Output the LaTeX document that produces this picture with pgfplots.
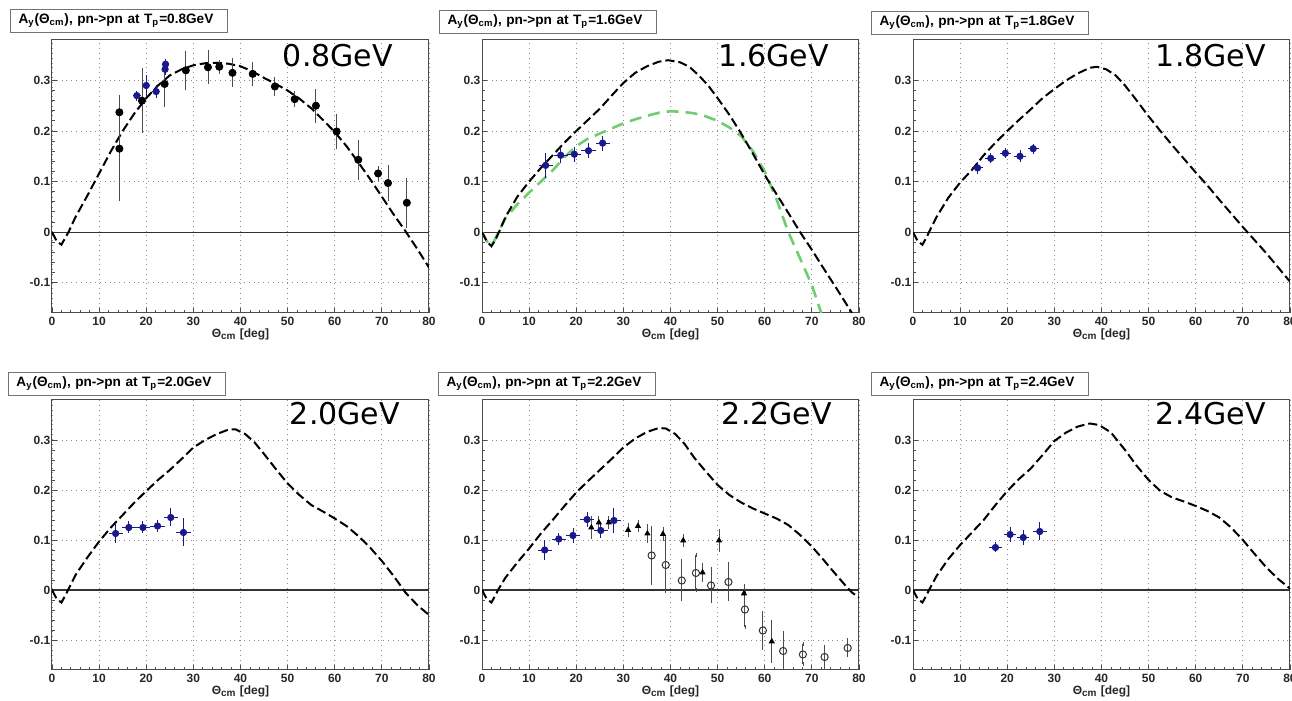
\documentclass[border=0pt]{standalone}
\usepackage{fontspec}
\setmainfont{Liberation Sans}
\newfontfamily\dejavu{DejaVu Sans}
\usepackage{pgfplots}
\pgfplotsset{compat=1.18}
\usepackage{pgfplotstable}

\definecolor{rootblue}{RGB}{25,25,140}
\definecolor{rootgreen}{RGB}{110,205,110}

% ---------------- theory curves ----------------
\pgfplotstableread{
x y
0 0
1 -0.018
2 -0.025
3 -0.008
3.5 0
5 0.03
7.5 0.072
10 0.116
12.5 0.16
15 0.2
17.5 0.235
20 0.265
22.5 0.29
25 0.31
27.5 0.322
30 0.33
32.5 0.334
35 0.335
37.5 0.333
40 0.328
42.5 0.318
45 0.305
47.5 0.293
50 0.28
52.5 0.264
55 0.245
57.5 0.222
60 0.198
62.5 0.17
65 0.138
67.5 0.105
70 0.07
72.5 0.035
75 0.002
77.5 -0.033
80 -0.07
}\curveA

\pgfplotstableread{
x y
0 0
1 -0.018
2 -0.028
3 -0.012
3.6 0
5 0.03
7.5 0.07
10 0.1
12.5 0.127
15 0.152
17.5 0.177
20 0.2
22.5 0.222
25 0.244
27.5 0.27
30 0.295
32.5 0.315
35 0.328
37.5 0.337
39.5 0.34
42 0.336
44 0.327
46 0.31
48 0.29
50 0.265
52.5 0.232
55 0.195
57.5 0.155
60 0.113
62.5 0.075
65 0.038
67.5 0.0
70 -0.035
72.5 -0.072
75 -0.108
77.5 -0.145
78.5 -0.16
}\curveB

\pgfplotstableread{
x y
0 0
1 -0.018
2 -0.028
3 -0.01
3.5 0
5 0.028
7.5 0.055
10 0.078
12.5 0.1
15 0.122
17.5 0.148
20 0.17
22.5 0.185
25 0.195
27.5 0.205
30 0.215
32.5 0.223
35 0.23
37.5 0.236
40 0.239
42.5 0.238
45 0.235
47.5 0.229
50 0.22
52.5 0.207
55 0.19
57.5 0.16
60 0.12
62.5 0.065
65 0.0
67.5 -0.052
70 -0.105
72 -0.16
}\curveBg

\pgfplotstableread{
x y
0 0
1 -0.018
2 -0.025
3 -0.008
3.4 0
5 0.03
7.5 0.068
10 0.098
12.5 0.123
15 0.152
17.5 0.177
20 0.2
22.5 0.222
25 0.243
27.5 0.265
30 0.283
32.5 0.3
35 0.314
37.5 0.325
39 0.327
41 0.322
43 0.31
45 0.29
47.5 0.26
50 0.229
52.5 0.2
55 0.172
57.5 0.145
60 0.118
62.5 0.092
65 0.064
67.5 0.037
70 0.01
72.5 -0.016
75 -0.042
77.5 -0.07
80 -0.098
}\curveC

\pgfplotstableread{
x y
0 0
1 -0.018
2 -0.025
3 -0.008
3.4 0
5 0.03
7.5 0.065
10 0.097
12.5 0.125
15 0.15
17.5 0.175
20 0.198
22.5 0.22
25 0.24
27.5 0.262
30 0.285
32.5 0.3
35 0.312
37.5 0.321
39 0.321
41 0.312
43 0.295
45 0.272
47.5 0.242
50 0.213
52.5 0.19
55 0.17
57.5 0.157
60 0.143
62.5 0.128
65 0.108
67.5 0.085
70 0.058
72.5 0.028
75 -0.005
77.5 -0.03
80 -0.05
}\curveD

\pgfplotstableread{
x y
0 0
1 -0.018
2 -0.025
3 -0.008
3.4 0
5 0.025
7.5 0.055
10 0.083
12.5 0.113
15 0.14
17.5 0.168
20 0.195
22.5 0.218
25 0.24
27.5 0.262
30 0.285
32.5 0.303
35 0.316
37.5 0.324
39 0.323
41 0.312
43 0.292
45 0.265
47.5 0.237
50 0.21
52.5 0.19
55 0.175
57.5 0.163
60 0.153
62.5 0.143
65 0.13
67.5 0.11
70 0.087
72.5 0.06
75 0.032
77.5 0.005
78.5 -0.005
80 -0.015
}\curveE

\pgfplotstableread{
x y
0 0
1 -0.018
2 -0.025
3 -0.008
3.4 0
5 0.028
7.5 0.062
10 0.09
12.5 0.115
15 0.14
17.5 0.17
20 0.198
22.5 0.222
25 0.243
27.5 0.27
30 0.298
32.5 0.315
35 0.327
37.5 0.333
39.5 0.33
42 0.315
45 0.28
47.5 0.248
50 0.22
52.5 0.198
55 0.185
57.5 0.177
60 0.168
62.5 0.158
65 0.145
67.5 0.125
70 0.1
72.5 0.072
75 0.045
77.5 0.022
80 0.003
}\curveF

% ---------------- data ----------------
\pgfplotstableread{
x y ey
14.3 0.237 0.03
14.3 0.165 0.1
19.1 0.26 0.06
23.9 0.293 0.042
28.4 0.32 0.035
33.1 0.326 0.03
35.5 0.327 0.01
38.3 0.315 0.025
42.6 0.313 0.02
47.3 0.288 0.015
51.5 0.263 0.012
56.0 0.25 0.03
60.4 0.199 0.03
65.0 0.143 0.035
69.2 0.116 0.01
71.3 0.097 0.032
75.3 0.058 0.045
}\dataAk

\pgfplotstableread{
x y ex ey
18.0 0.27 0.8 0.01
20.0 0.29 0.8 0.02
22.1 0.278 0.8 0.012
24.0 0.322 0.6 0.012
24.1 0.332 0.6 0.01
}\dataAb

\pgfplotstableread{
x y ex ey
13.5 0.132 1.5 0.025
16.7 0.152 1.5 0.015
19.6 0.154 1.5 0.015
22.6 0.161 1.5 0.015
25.6 0.176 1.5 0.015
}\dataB

\pgfplotstableread{
x y ex ey
13.7 0.127 1.2 0.012
16.5 0.146 1.2 0.01
19.6 0.156 1.2 0.01
22.7 0.15 1.2 0.012
25.5 0.165 1.2 0.01
}\dataC

\pgfplotstableread{
x y ex ey
13.5 0.113 1.5 0.02
16.3 0.125 1.5 0.012
19.3 0.125 1.5 0.012
22.4 0.128 1.5 0.012
25.2 0.145 1.5 0.018
27.9 0.115 1.5 0.028
}\dataD

\pgfplotstableread{
x y ex ey
13.3 0.08 1.5 0.02
16.3 0.102 1.5 0.012
19.3 0.109 1.5 0.015
22.3 0.141 1.5 0.015
25.2 0.119 1.5 0.015
28.0 0.139 1.5 0.025
}\dataEb

\pgfplotstableread{
x y ey
23.2 0.125 0.02
24.8 0.135 0.01
26.9 0.135 0.01
31.0 0.12 0.01
33.1 0.128 0.008
35.1 0.113 0.015
38.4 0.112 0.01
42.7 0.099 0.01
46.8 0.035 0.015
50.3 0.099 0.02
55.6 -0.007 0.015
61.5 -0.103 0.04
}\dataEk

\pgfplotstableread{
x y ey
36.0 0.069 0.055
39.0 0.05 0.053
42.4 0.019 0.038
45.4 0.034 0.035
48.6 0.009 0.032
52.3 0.016 0.035
55.8 -0.039 0.035
59.6 -0.081 0.035
63.9 -0.122 0.035
68.1 -0.129 0.02
72.7 -0.134 0.02
77.6 -0.116 0.015
}\dataEo

\pgfplotstableread{
x y ex ey
17.5 0.085 1.3 0.01
20.6 0.111 1.3 0.015
23.4 0.105 1.3 0.015
26.9 0.117 1.5 0.018
}\dataF

\pgfplotsset{
  rootaxis/.style={
    scale only axis, width=188.5pt,
    xmin=0, xmax=80, ymin=-0.16, ymax=0.38,
    xtick={0,10,...,80}, xticklabels={0,10,20,30,40,50,60,70,80},
    ytick={-0.1,0,0.1,0.2,0.3}, yticklabels={-0.1,0,0.1,0.2,0.3},
    minor x tick num=4, minor y tick num=4,
    tick align=inside, xtick pos=bottom, ytick pos=left,
    major tick length=2.6pt, minor tick length=1.4pt,
    grid=major, major grid style={black!45, dotted, line width=0.45pt},
    axis line style={black!70, line width=0.5pt},
    tick style={black!70, line width=0.4pt},
    ticklabel style={font=\bfseries\fontsize{6}{7}\selectfont, text=black!85},
    yticklabel style={inner xsep=0.6pt},
    xticklabel style={inner ysep=1.8pt},
    xlabel={$\Theta$},
    xlabel={Θ\textsubscript{cm} [deg]},
    xlabel style={font=\bfseries\fontsize{6}{7}\selectfont, text=black!85,
      at={(axis description cs:0.5,0)}, anchor=center, yshift=-10.5pt},
  },
  theory/.style={black, line width=1pt, dash pattern=on 4.6pt off 2pt, no markers},
  zeroline/.style={black!80, line width=0.6pt, no markers, forget plot},
  bluepts/.style={only marks, mark=*, mark size=1.6pt, color=rootblue,
    error bars/.cd, x dir=both, x explicit, y dir=both, y explicit,
    error bar style={rootblue, line width=0.45pt}, error mark=none},
  blackpts/.style={only marks, mark=*, mark size=1.8pt, color=black,
    error bars/.cd, y dir=both, y explicit,
    error bar style={black!70, line width=0.45pt}, error mark options={mark size=1pt, black!70}},
}

\newcommand{\titlebox}[3]{%
  \node[draw=black!55, line width=0.5pt, anchor=north west, inner xsep=4pt, inner ysep=0pt,
    text width=100.5pt, minimum height=11.5pt, align=left,
    font=\bfseries\fontsize{6.8}{7}\selectfont] at (#1,#2)
    {A\textsubscript{y}(Θ\textsubscript{cm}), pn->pn at T\textsubscript{p}=#3};}

\begin{document}
\begin{tikzpicture}
\useasboundingbox (0,0) rectangle (646pt,350.5pt);

% ---- panel 1 ----
\begin{axis}[rootaxis, at={(26pt,194pt)}, anchor=south west, height=136.5pt, name=p1]
\addplot[zeroline] coordinates {(0,0) (80,0)};
\addplot[theory] table[x=x,y=y] {\curveA};
\addplot[blackpts] table[x=x,y=y,y error=ey] {\dataAk};
\addplot[bluepts] table[x=x,y=y,x error=ex,y error=ey] {\dataAb};
\end{axis}
\node[anchor=base east, font=\dejavu\fontsize{15}{15}\selectfont] at ([xshift=-14.5pt,yshift=-13.5pt]p1.north east) {0.8GeV};
\titlebox{5pt}{346pt}{0.8GeV}

% ---- panel 2 ----
\begin{axis}[rootaxis, at={(241pt,194pt)}, anchor=south west, height=136.5pt, name=p2]
\addplot[zeroline] coordinates {(0,0) (80,0)};
\addplot[rootgreen, line width=1.3pt, dash pattern=on 6pt off 3.5pt, no markers] table[x=x,y=y] {\curveBg};
\addplot[theory] table[x=x,y=y] {\curveB};
\addplot[bluepts] table[x=x,y=y,x error=ex,y error=ey] {\dataB};
\end{axis}
\node[anchor=base east, font=\dejavu\fontsize{15}{15}\selectfont] at ([xshift=-11.5pt,yshift=-13.5pt]p2.north east) {1.6GeV};
\titlebox{219.5pt}{345.5pt}{1.6GeV}

% ---- panel 3 ----
\begin{axis}[rootaxis, at={(456.5pt,194pt)}, anchor=south west, height=136.5pt, name=p3]
\addplot[zeroline] coordinates {(0,0) (80,0)};
\addplot[theory] table[x=x,y=y] {\curveC};
\addplot[bluepts] table[x=x,y=y,x error=ex,y error=ey] {\dataC};
\end{axis}
\node[anchor=base east, font=\dejavu\fontsize{15}{15}\selectfont] at ([xshift=-8.5pt,yshift=-13.5pt]p3.north east) {1.8GeV};
\titlebox{435.5pt}{345pt}{1.8GeV}

% ---- panel 4 ----
\begin{axis}[rootaxis, at={(26pt,15.5pt)}, anchor=south west, height=135pt, name=p4]
\addplot[zeroline] coordinates {(0,0) (80,0)};
\addplot[theory] table[x=x,y=y] {\curveD};
\addplot[bluepts] table[x=x,y=y,x error=ex,y error=ey] {\dataD};
\end{axis}
\node[anchor=base east, font=\dejavu\fontsize{15}{15}\selectfont] at ([xshift=-11pt,yshift=-12.5pt]p4.north east) {2.0GeV};
\titlebox{4pt}{164.5pt}{2.0GeV}

% ---- panel 5 ----
\begin{axis}[rootaxis, at={(241pt,15.5pt)}, anchor=south west, height=135pt, name=p5]
\addplot[zeroline] coordinates {(0,0) (80,0)};
\addplot[theory] table[x=x,y=y] {\curveE};
\addplot[only marks, mark=triangle*, mark size=1.4pt, color=black,
  error bars/.cd, y dir=both, y explicit, error bar style={black!70, line width=0.45pt},
  error mark options={mark size=0.8pt, black!70}] table[x=x,y=y,y error=ey] {\dataEk};
\addplot[only marks, mark=o, mark size=1.8pt, color=black!80, mark options={fill=white, line width=0.5pt},
  error bars/.cd, y dir=both, y explicit, error bar style={black!70, line width=0.45pt},
  error mark options={mark size=1pt, black!70}] table[x=x,y=y,y error=ey] {\dataEo};
\addplot[bluepts] table[x=x,y=y,x error=ex,y error=ey] {\dataEb};
\end{axis}
\node[anchor=base east, font=\dejavu\fontsize{15}{15}\selectfont] at ([xshift=-10pt,yshift=-12.5pt]p5.north east) {2.2GeV};
\titlebox{219pt}{164.5pt}{2.2GeV}

% ---- panel 6 ----
\begin{axis}[rootaxis, at={(456.5pt,15.5pt)}, anchor=south west, height=135pt, name=p6]
\addplot[zeroline] coordinates {(0,0) (80,0)};
\addplot[theory] table[x=x,y=y] {\curveF};
\addplot[bluepts] table[x=x,y=y,x error=ex,y error=ey] {\dataF};
\end{axis}
\node[anchor=base east, font=\dejavu\fontsize{15}{15}\selectfont] at ([xshift=-8.5pt,yshift=-12.5pt]p6.north east) {2.4GeV};
\titlebox{435.5pt}{164.5pt}{2.4GeV}

\end{tikzpicture}
\end{document}
